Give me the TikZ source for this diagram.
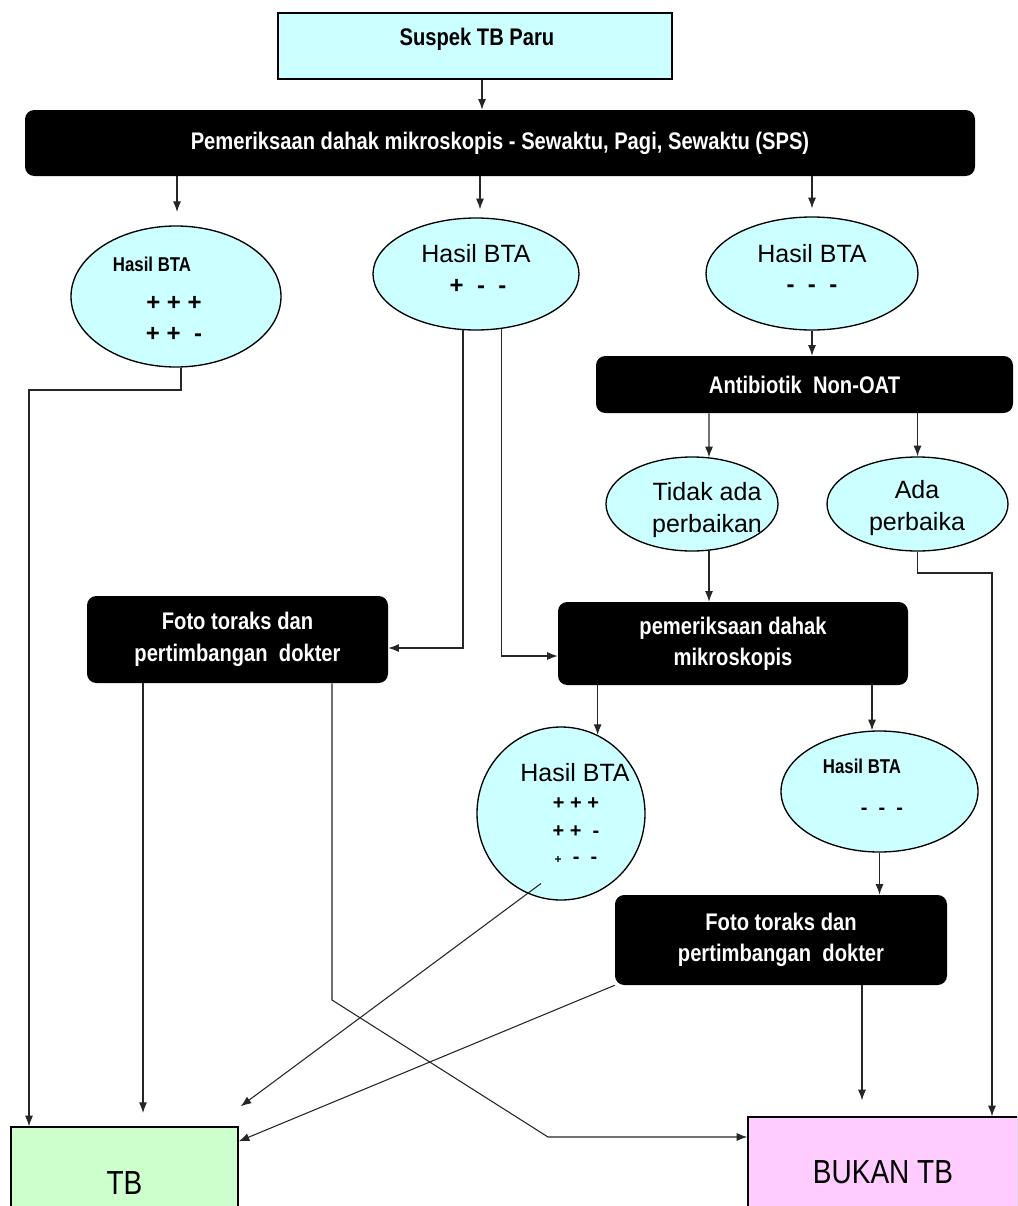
\documentclass[tikz,border=0pt]{standalone}
\usepackage{fontspec}
\setmainfont{Liberation Sans}
\newfontfamily\narrowfont{Liberation Sans}[FakeStretch=0.84]
\usetikzlibrary{arrows.meta,calc,shapes.geometric}
\definecolor{paleblue}{HTML}{CCFFFF}
\definecolor{palegreen}{HTML}{CCFFCC}
\definecolor{palepink}{HTML}{FFCCFF}

\begin{document}
\begin{tikzpicture}[x=0.75pt,y=-0.75pt,
  conn/.style={draw=black!85, line width=0.8pt},
  arr/.style={conn, -{Latex[length=8pt,width=6pt]}},
  darkbox/.style={fill=black, rounded corners=7pt, text=white, align=center,
    inner sep=0pt, font=\narrowfont\bfseries\fontsize{18}{23.5}\selectfont},
  bubble/.style={ellipse, draw=black, line width=1pt, fill=paleblue, inner sep=0pt},
  lbl/.style={inner sep=0pt, align=center},
  bigtxt/.style={lbl, font=\fontsize{18.75}{24}\selectfont},
  smallbold/.style={lbl, font=\narrowfont\bfseries\fontsize{15}{15}\selectfont},
  signs/.style={lbl, font=\bfseries\fontsize{18}{18}\selectfont},
  smallsigns/.style={lbl, font=\bfseries\fontsize{15}{15}\selectfont},
  endbox/.style={draw=black, line width=1pt, inner sep=0pt,
    font=\narrowfont\fontsize{25}{25}\selectfont},
]
\useasboundingbox (0,0) rectangle (1017,1206);
\clip (0,0) rectangle (1017,1206);
\fill[white] (0,0) rectangle (1017,1206);

% ---- nodes ----
\node[draw=black, line width=2pt, fill=paleblue, minimum width=295.5pt,
  minimum height=49.5pt, inner sep=0pt] (suspek) at (475,46) {};
\node[lbl, font=\narrowfont\bfseries\fontsize{18}{20}\selectfont] (suspek-t) at (477,39) {Suspek TB Paru};

\node[darkbox, minimum width=712.5pt, minimum height=49.5pt] (sps) at (500,143)
  {Pemeriksaan dahak mikroskopis - Sewaktu, Pagi, Sewaktu (SPS)};

\node[bubble, minimum width=157.5pt, minimum height=105.75pt] (e1) at (176,296.5) {};
\node[smallbold] (e1-a) at (152,264) {Hasil BTA};
\node[signs] (e1-b) at (174,303) {+ + +};
\node[signs] (e1-c) at (174,334) {+ + \ -};

\node[bubble, minimum width=154.5pt, minimum height=84pt] (e2) at (476,274) {};
\node[bigtxt] (e2-a) at (476,254) {Hasil BTA};
\node[signs] (e2-b) at (478,286) {+ \ - \ -};

\node[bubble, minimum width=159pt, minimum height=84.75pt] (e3) at (812,273.5) {};
\node[bigtxt] (e3-a) at (812,254) {Hasil BTA};
\node[signs] (e3-b) at (812,289) {- \ - \ -};

\node[darkbox, minimum width=312.75pt, minimum height=42.75pt] (anti) at (804.5,384.5)
  {Antibiotik\ \ Non-OAT};

\node[bubble, minimum width=129pt, minimum height=70.5pt] (tidak) at (692,504) {};
\node[bigtxt] (tidak-t) at (707,510) {Tidak ada\\perbaikan};

\node[bubble, minimum width=135.75pt, minimum height=70.5pt] (ada) at (917.5,504) {};
\node[bigtxt] (ada-t) at (917,508) {Ada\\perbaika};

\node[darkbox, minimum width=225.75pt, minimum height=65.25pt] (foto1) at (237.5,639.5)
  {Foto toraks dan\\pertimbangan\ \ dokter};
\node[darkbox, minimum width=262.5pt, minimum height=62.25pt] (pem) at (733,643.5)
  {pemeriksaan dahak\\mikroskopis};

\node[bubble, minimum width=126pt, minimum height=129.75pt] (e4) at (561,813.5) {};
\node[bigtxt] (e4-a) at (575,773) {Hasil BTA};
\node[smallsigns] (e4-b) at (576,804) {+ + +};
\node[smallsigns] (e4-c) at (576,832) {+ + \ -};
\node[smallsigns] (e4-d) at (576,860) {{\fontsize{9}{9}\selectfont +} \ - \ -};

\node[bubble, minimum width=147.75pt, minimum height=90.75pt] (e5) at (879.5,791.5) {};
\node[smallbold] (e5-a) at (862,766) {Hasil BTA};
\node[smallsigns] (e5-b) at (882,811) {- \ - \ -};

\node[darkbox, minimum width=249pt, minimum height=67.5pt] (foto2) at (781,940)
  {Foto toraks dan\\pertimbangan\ \ dokter};

\node[endbox, fill=palegreen, minimum width=170.25pt, minimum height=84pt] (tb) at (124.5,1183) {TB};
\node[endbox, fill=palepink, minimum width=202.5pt, minimum height=82.5pt] (bukan) at (883,1172) {BUKAN TB};

% ---- guide positions for the connectors ----
\coordinate (gA) at (482,0);
\coordinate (gB) at (177,0);
\coordinate (gC) at (480,0);
\coordinate (gD) at (812,0);
\coordinate (gF) at (709,0);
\coordinate (gI) at (992,0);
\coordinate (gL) at (29,0);
\coordinate (gN) at (872,0);
\coordinate (gP) at (862,0);
\coordinate (gQ) at (143,0);
\coordinate (gR) at (332,0);
\coordinate (yI) at (0,573);
\coordinate (yJ) at (0,648);
\coordinate (yK) at (0,656);
\coordinate (yL) at (0,390);
\coordinate (yR) at (0,1000);
\coordinate (rB) at (548,1137);

% ---- connectors ----
\draw[arr] (suspek.south -| gA) -- (sps.north -| gA);
\draw[arr, shorten >=10pt] (sps.south -| gB) -- (e1.north -| gB);
\draw[arr, shorten >=6pt] (sps.south -| gC) -- (e2.north -| gC);
\draw[arr, shorten >=6pt] (sps.south -| gD) -- (e3.north -| gD);
\draw[arr] (e3.south) -- (e3.south |- anti.north);
\draw[arr] (anti.south -| gF) -- (tidak.70);
\draw[arr] (anti.south -| ada.north) -- (ada.north);
\draw[arr] (tidak.-70) -- (tidak.-70 |- pem.north);
\draw[arr] (ada.south) -- (ada.south |- yI) -- (yI -| gI) -- (bukan.north -| gI);
\draw[arr] (e2.-103) -- (e2.-103 |- yJ) -- (foto1.east |- yJ);
\draw[arr] (e2.-65) -- (e2.-65 |- yK) -- (pem.west |- yK);
\draw[arr] (e1.-86) -- (e1.-86 |- yL) -- (yL -| gL) -- (tb.north -| gL);
\draw[arr] (pem.south -| e4.65) -- (e4.65);
\draw[arr] (pem.south -| gN) -- (e5.north -| gN);
\draw[arr] (e5.south) -- (e5.south |- foto2.north);
\draw[arr, shorten >=12pt] (foto2.south -| gP) -- (bukan.north -| gP);
\draw[arr, shorten >=10pt] (foto1.south -| gQ) -- (tb.north -| gQ);
\draw[arr] (foto1.south -| gR) -- (yR -| gR) -- (rB) -- (bukan.west |- rB);
\draw[arr] ($(e4.center)+(-20,70)$) -- ($(tb.north east)+(2,-20)$);
\draw[arr] (foto2.south west) -- ($(tb.north east)+(0,15)$);
\end{tikzpicture}
\end{document}
